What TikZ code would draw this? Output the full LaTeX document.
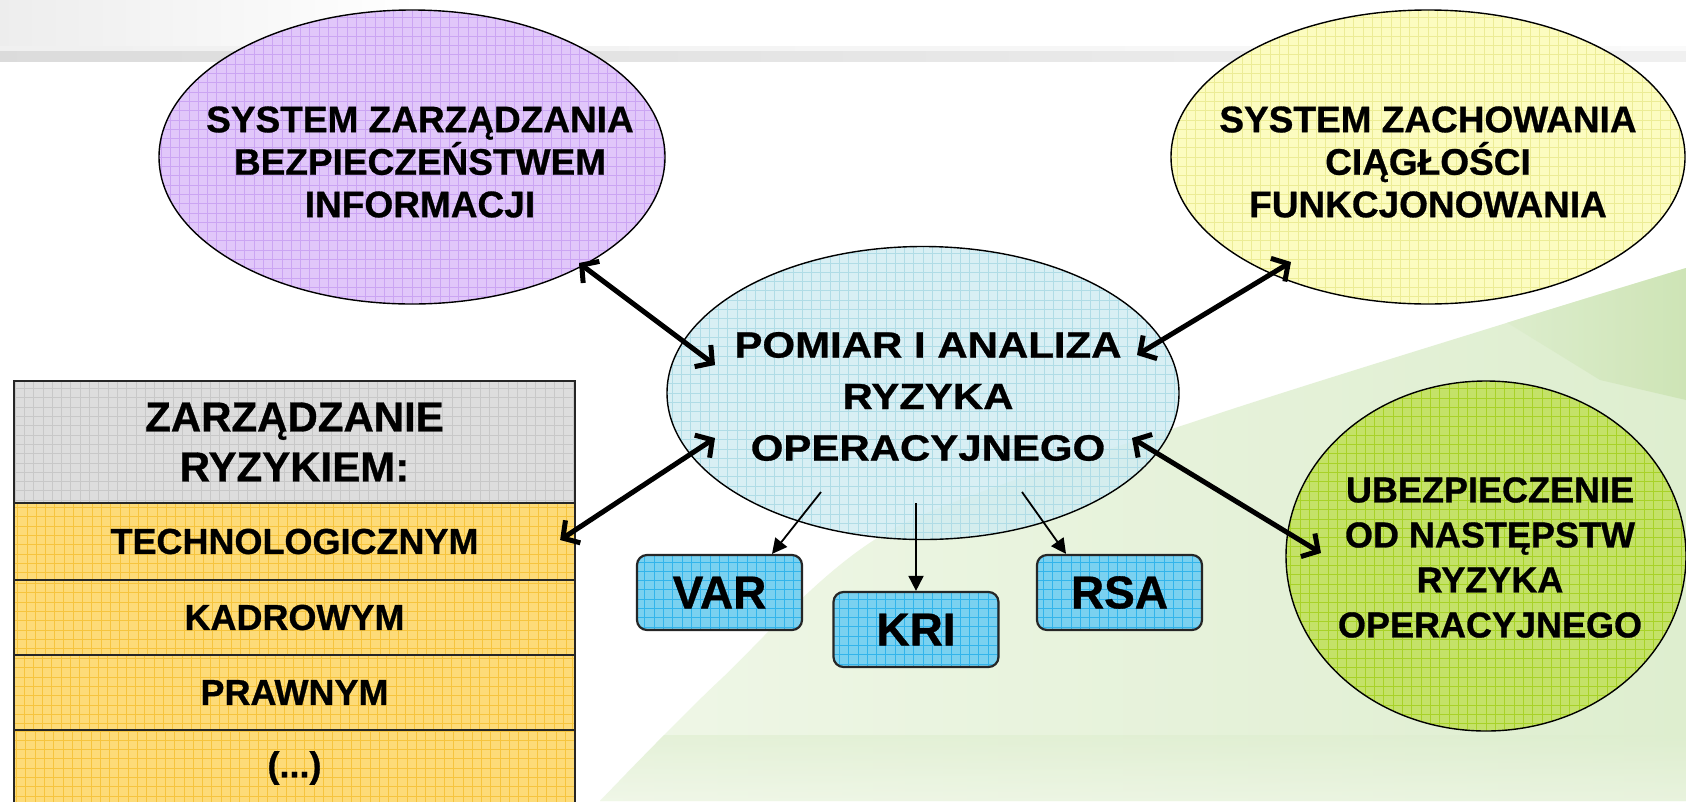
\documentclass[tikz,border=0pt]{standalone}
\usepackage{fontspec}
\setmainfont{Liberation Sans}[BoldFeatures={FakeBold=0.8}]
\newfontfamily\widesans{Liberation Sans}[FakeStretch=1.15, BoldFeatures={FakeBold=0.8}]
\usetikzlibrary{shapes.geometric,arrows.meta,calc}

% fills and the slightly darker lines of their grid texture
\definecolor{lilac}{RGB}{225,199,250}
\definecolor{lilacgrid}{RGB}{203,165,243}
\definecolor{lemon}{RGB}{252,252,192}
\definecolor{lemongrid}{RGB}{236,236,150}
\definecolor{aqua}{RGB}{208,236,242}
\definecolor{aquagrid}{RGB}{176,220,230}
\definecolor{lime}{RGB}{196,226,104}
\definecolor{limegrid}{RGB}{168,210,40}
\definecolor{cellgray}{RGB}{221,221,221}
\definecolor{cellgraygrid}{RGB}{200,200,200}
\definecolor{amber}{RGB}{253,219,120}
\definecolor{ambergrid}{RGB}{246,196,62}
\definecolor{sky}{RGB}{122,209,240}
\definecolor{skygrid}{RGB}{50,180,235}
\definecolor{bgA}{RGB}{240,247,232}
\definecolor{bgB}{RGB}{222,238,207}
\definecolor{bgC}{RGB}{200,225,172}

\tikzset{
  gridfill/.style={path picture={
      \draw[#1, line width=0.6pt, step=9.3pt]
        (path picture bounding box.south west) grid (path picture bounding box.north east);}},
  bubble/.style={ellipse, draw=black, line width=1.4pt, inner sep=0pt},
  bubbletext/.style={align=center, inner sep=0pt, font=\bfseries\fontsize{37}{42.5}\selectfont},
  cell/.style={rectangle, draw=black!85, line width=2.2pt, minimum width=561pt,
    inner sep=0pt, align=center, font=\bfseries\fontsize{36}{40}\selectfont},
  tag/.style={rectangle, rounded corners=10pt, draw=black!85, line width=2.2pt,
    minimum width=165pt, minimum height=75pt, inner sep=0pt,
    fill=sky, gridfill=skygrid, font=\bfseries\fontsize{46}{50}\selectfont},
  link/.style={line width=5pt,
    {Straight Barb[length=12pt,width=27pt]}-{Straight Barb[length=12pt,width=27pt]}},
  feed/.style={line width=1.8pt, -{Triangle[length=15pt,width=15pt]}},
}

\begin{document}
\begin{tikzpicture}[x=1pt,y=-1pt]
\useasboundingbox (0,0) rectangle (1686,801);
\clip (0,0) rectangle (1686,801);

% background: white sheet, faint grey rule at the top, green wedge at the bottom right
\fill[white] (0,0) rectangle (1686,801);
\shade[left color=black!7, right color=white] (0,0) rectangle (420,48);
\shade[left color=black!14, right color=black!6] (0,50) rectangle (1686,61);
\shade[left color=black!6, right color=black!2] (0,46) rectangle (1686,50);
\begin{scope}
  \clip plot[smooth] coordinates {(600,801) (720,680) (891,530) (1199,420) (1516,320) (1686,268)}
    -- (1686,801) -- cycle;
  \shade[left color=bgA, right color=bgB] (560,250) rectangle (1686,801);
  \shade[left color=bgB, right color=bgC, opacity=0.7]
    (1480,306) -- (1686,262) -- (1686,400) -- (1600,380) -- cycle;
  \shade[top color=bgB, bottom color=bgA, opacity=0.6] (560,735) rectangle (1686,801);
\end{scope}

% the four ellipses
\node[bubble, fill=lilac, gridfill=lilacgrid, minimum width=506pt, minimum height=294pt] (pur) at (412,157) {};
\node[bubble, fill=lemon, gridfill=lemongrid, minimum width=514pt, minimum height=294pt] (yel) at (1428,157) {};
\node[bubble, fill=aqua, fill opacity=0.82, gridfill=aquagrid, minimum width=512pt, minimum height=293pt] (cen) at (923,393) {};
\node[bubble, fill=lime, gridfill=limegrid, minimum width=400pt, minimum height=350pt] (grn) at (1486,556) {};

\node[bubbletext] (purT) at (420,162) {SYSTEM ZARZĄDZANIA\\BEZPIECZEŃSTWEM\\INFORMACJI};
\node[bubbletext] (yelT) at (1428,162) {SYSTEM ZACHOWANIA\\CIĄGŁOŚCI\\FUNKCJONOWANIA};
\node[bubbletext, font=\widesans\bfseries\fontsize{36.5}{51.5}\selectfont] (cenT) at (928,396.5)
  {POMIAR I ANALIZA\\RYZYKA\\OPERACYJNEGO};
\node[bubbletext, font=\bfseries\fontsize{36}{45}\selectfont] (grnT) at (1490,557.5)
  {UBEZPIECZENIE\\OD NASTĘPSTW\\RYZYKA\\OPERACYJNEGO};

% risk-management table
\node[cell, fill=cellgray, gridfill=cellgraygrid, minimum height=122pt,
  font=\bfseries\fontsize{42}{50}\selectfont] (hdr) at (294.5,442) {ZARZĄDZANIE\\RYZYKIEM:};
\node[cell, fill=amber, gridfill=ambergrid, minimum height=77pt] (tech) at (294.5,541.5) {TECHNOLOGICZNYM};
\node[cell, fill=amber, gridfill=ambergrid, minimum height=75pt] (kadr) at (294.5,617.5) {KADROWYM};
\node[cell, fill=amber, gridfill=ambergrid, minimum height=75pt] (praw) at (294.5,692.5) {PRAWNYM};
\node[cell, fill=amber, gridfill=ambergrid, minimum height=76pt] (dots) at (294.5,768) {(...)};

% measurement methods
\node[tag] (var) at (719.5,592.5) {VAR};
\node[tag] (kri) at (916,629.5) {KRI};
\node[tag] (rsa) at (1119.5,592.5) {RSA};

% two-way links to the central ellipse
\draw[link] ($(pur.center)+(167,106)$) -- ($(cen.center)+(-208,-28)$);
\draw[link] ($(yel.center)+(-137,105)$) -- ($(cen.center)+(214,-38)$);
\draw[link] ($(tech.east)+(-16,-1.5)$) -- ($(cen.center)+(-208,45)$);
\draw[link] ($(grn.center)+(-165,-3)$) -- ($(cen.center)+(209,45)$);

% arrows down to the methods
\draw[feed] ($(cen.center)+(-102,99)$) -- ($(var.north)+(52.5,0)$);
\draw[feed] ($(cen.center)+(-7,110)$) -- (kri.north);
\draw[feed] ($(cen.center)+(99,99)$) -- ($(rsa.north)+(-53.5,0)$);
\end{tikzpicture}
\end{document}
